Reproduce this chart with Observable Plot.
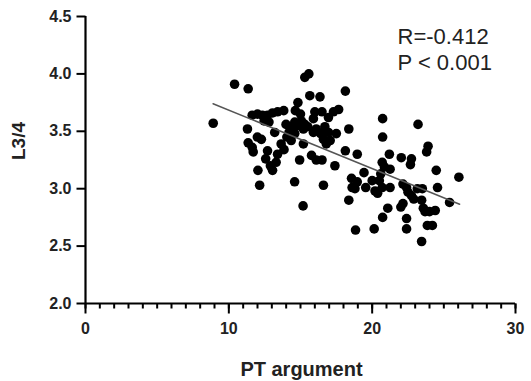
<!DOCTYPE html>
<html>
<head>
<meta charset="utf-8">
<script src="https://cdn.jsdelivr.net/npm/d3@7"></script>
<script src="https://cdn.jsdelivr.net/npm/@observablehq/plot@0.6"></script>
<style>
  html, body { margin: 0; padding: 0; background: #fff; }
  #chart svg { display: block; }
</style>
</head>
<body>
<div id="chart"></div>
<script>
// PT argument (x) values
const ptArgument = [
  8.91, 10.40, 11.35, 11.30, 11.35, 11.63, 11.70, 11.99, 12.27, 12.03, 12.15,
  11.63, 12.00, 12.34, 12.70, 13.05, 13.40, 13.83, 12.46, 12.80, 13.20,
  12.70, 12.57, 12.90, 13.05, 13.30, 13.40, 13.65, 13.85, 14.05, 14.20,
  13.99, 14.35, 14.59, 14.82, 14.64, 15.00, 14.94, 15.18, 15.30, 15.58,
  15.65, 16.36, 14.60, 14.80, 15.06, 15.30, 15.20, 15.50, 14.60, 14.35,
  15.20, 15.77, 16.10, 16.50, 16.60, 16.00, 16.50, 15.90, 16.10, 15.90,
  16.40, 16.60, 16.70, 16.95, 16.80, 17.07, 16.95, 17.30, 17.66, 17.40,
  17.50, 18.13, 18.37, 18.13, 18.96, 18.37, 18.84, 18.56, 18.60, 18.96,
  18.80, 19.43, 19.55, 20.00, 20.20, 20.14, 20.73, 20.73, 20.70, 20.85,
  21.25, 20.60, 21.20, 21.09, 20.73, 20.38, 20.70, 21.25, 20.50, 22.03,
  22.74, 22.67, 22.15, 22.40, 22.50, 22.74, 22.15, 22.40, 22.40, 23.20,
  23.90, 23.80, 23.15, 23.50, 23.45, 23.57, 23.69, 24.00, 24.40, 23.85,
  24.20, 23.45, 24.47, 24.56, 25.40, 26.05, 22.90, 22.00
];
// L3/4 (y) values
const l34 = [
  3.57, 3.91, 3.87, 3.52, 3.40, 3.36, 3.32, 3.45, 3.43, 3.16, 3.03,
  3.64, 3.65, 3.64, 3.64, 3.66, 3.67, 3.68, 3.59, 3.58, 3.49,
  3.33, 3.26, 3.20, 3.16, 3.23, 3.30, 3.39, 3.34, 3.45, 3.49,
  3.56, 3.54, 3.06, 3.75, 3.68, 3.65, 3.25, 2.85, 3.97, 4.00,
  3.81, 3.80, 3.58, 3.55, 3.59, 3.56, 3.52, 3.54, 3.48, 3.42,
  3.39, 3.29, 3.25, 3.25, 3.03, 3.67, 3.67, 3.61, 3.52, 3.49,
  3.48, 3.43, 3.54, 3.49, 3.39, 3.42, 3.62, 3.67, 3.69, 3.20,
  3.48, 3.85, 3.52, 3.33, 3.30, 2.90, 2.64, 3.09, 3.01, 3.06,
  3.00, 3.14, 3.01, 3.07, 2.98, 2.65, 3.61, 3.45, 3.23, 3.19,
  3.17, 3.13, 3.30, 2.83, 2.75, 2.96, 3.01, 3.01, 3.07, 3.27,
  3.26, 3.21, 3.04, 3.01, 2.97, 2.94, 2.87, 2.74, 2.65, 3.56,
  3.37, 3.32, 3.00, 3.00, 2.90, 2.83, 2.80, 2.80, 2.81, 2.68,
  2.68, 2.54, 3.16, 3.01, 2.88, 3.10, 2.91, 2.84
];
// Fitted line endpoints
const fitX = [8.9, 26.1];
const fitY = [3.74, 2.865];
// Axis ticks
const xMajorTicks = [0, 10, 20, 30];
const xMinorTicks = d3.range(0, 31, 1);
const yTicks = [2.0, 2.5, 3.0, 3.5, 4.0, 4.5];
// Texts
const xLabel = "PT argument";
const yLabel = "L3/4";
const statLines = ["R=-0.412", "P < 0.001"];

const W = 531, H = 381, ML = 85, MR = 16, MT = 16, MB = 78;
const xDomain = [0, 30], yDomain = [2, 4.5];
const xPerPx = (xDomain[1] - xDomain[0]) / (W - ML - MR);
const yPerPx = (yDomain[1] - yDomain[0]) / (H - MT - MB);

const points = ptArgument.map((x, i) => ({x, y: l34[i]}));
const fit = fitX.map((x, i) => ({x, y: fitY[i]}));
// tick segments (built from the tick lists, lengths in pixels converted through the scales)
const tickSegs = [
  ...xMinorTicks.map(t => ({x1: t, x2: t, y1: yDomain[0], y2: yDomain[0] - 5 * yPerPx})),
  ...xMajorTicks.map(t => ({x1: t, x2: t, y1: yDomain[0], y2: yDomain[0] - 10 * yPerPx})),
  ...yTicks.map(t => ({x1: xDomain[0], x2: xDomain[0] - 9 * xPerPx, y1: t, y2: t}))
];

const font = "'Liberation Sans', Arial, sans-serif";

const chart = Plot.plot({
  width: W,
  height: H,
  marginLeft: ML,
  marginRight: MR,
  marginTop: MT,
  marginBottom: MB,
  style: {fontFamily: font, background: "#fff", color: "#222"},
  x: {domain: xDomain},
  y: {domain: yDomain},
  marks: [
    Plot.axisX({ticks: xMajorTicks, tickSize: 0, tickPadding: 19, tickFormat: d => String(d), label: null,
      fontSize: 16, fontWeight: "bold"}),
    Plot.axisY({ticks: yTicks, tickSize: 0, tickPadding: 14, tickFormat: d => d.toFixed(1), label: null,
      fontSize: 16, fontWeight: "bold"}),
    Plot.link(tickSegs, {x1: "x1", y1: "y1", x2: "x2", y2: "y2", stroke: "#000", strokeWidth: 2}),
    Plot.ruleX([0], {stroke: "#000", strokeWidth: 2.2}),
    Plot.ruleY([2], {stroke: "#000", strokeWidth: 2.2}),
    Plot.dot(points, {x: "x", y: "y", r: 4.8, fill: "#000", stroke: "none"}),
    Plot.line(fit, {x: "x", y: "y", stroke: "#555", strokeWidth: 1.5}),
    Plot.text([xLabel], {frameAnchor: "bottom", dy: 66, dx: 1, lineAnchor: "middle", fontSize: 20,
      fontWeight: "bold", fill: "#222", letterSpacing: 2}),
    Plot.text([yLabel], {frameAnchor: "left", dx: -66.5, rotate: -90, lineAnchor: "middle", fontSize: 19,
      fontWeight: "bold", fill: "#222", letterSpacing: 2}),
    Plot.text([statLines.join("\n")], {frameAnchor: "top-left", dx: 312, dy: 9.5, textAnchor: "start",
      lineAnchor: "top", lineHeight: 1.18, fontSize: 22, fill: "#222", letterSpacing: 0.4})
  ]
});
document.getElementById("chart").appendChild(chart);
</script>
</body>
</html>
